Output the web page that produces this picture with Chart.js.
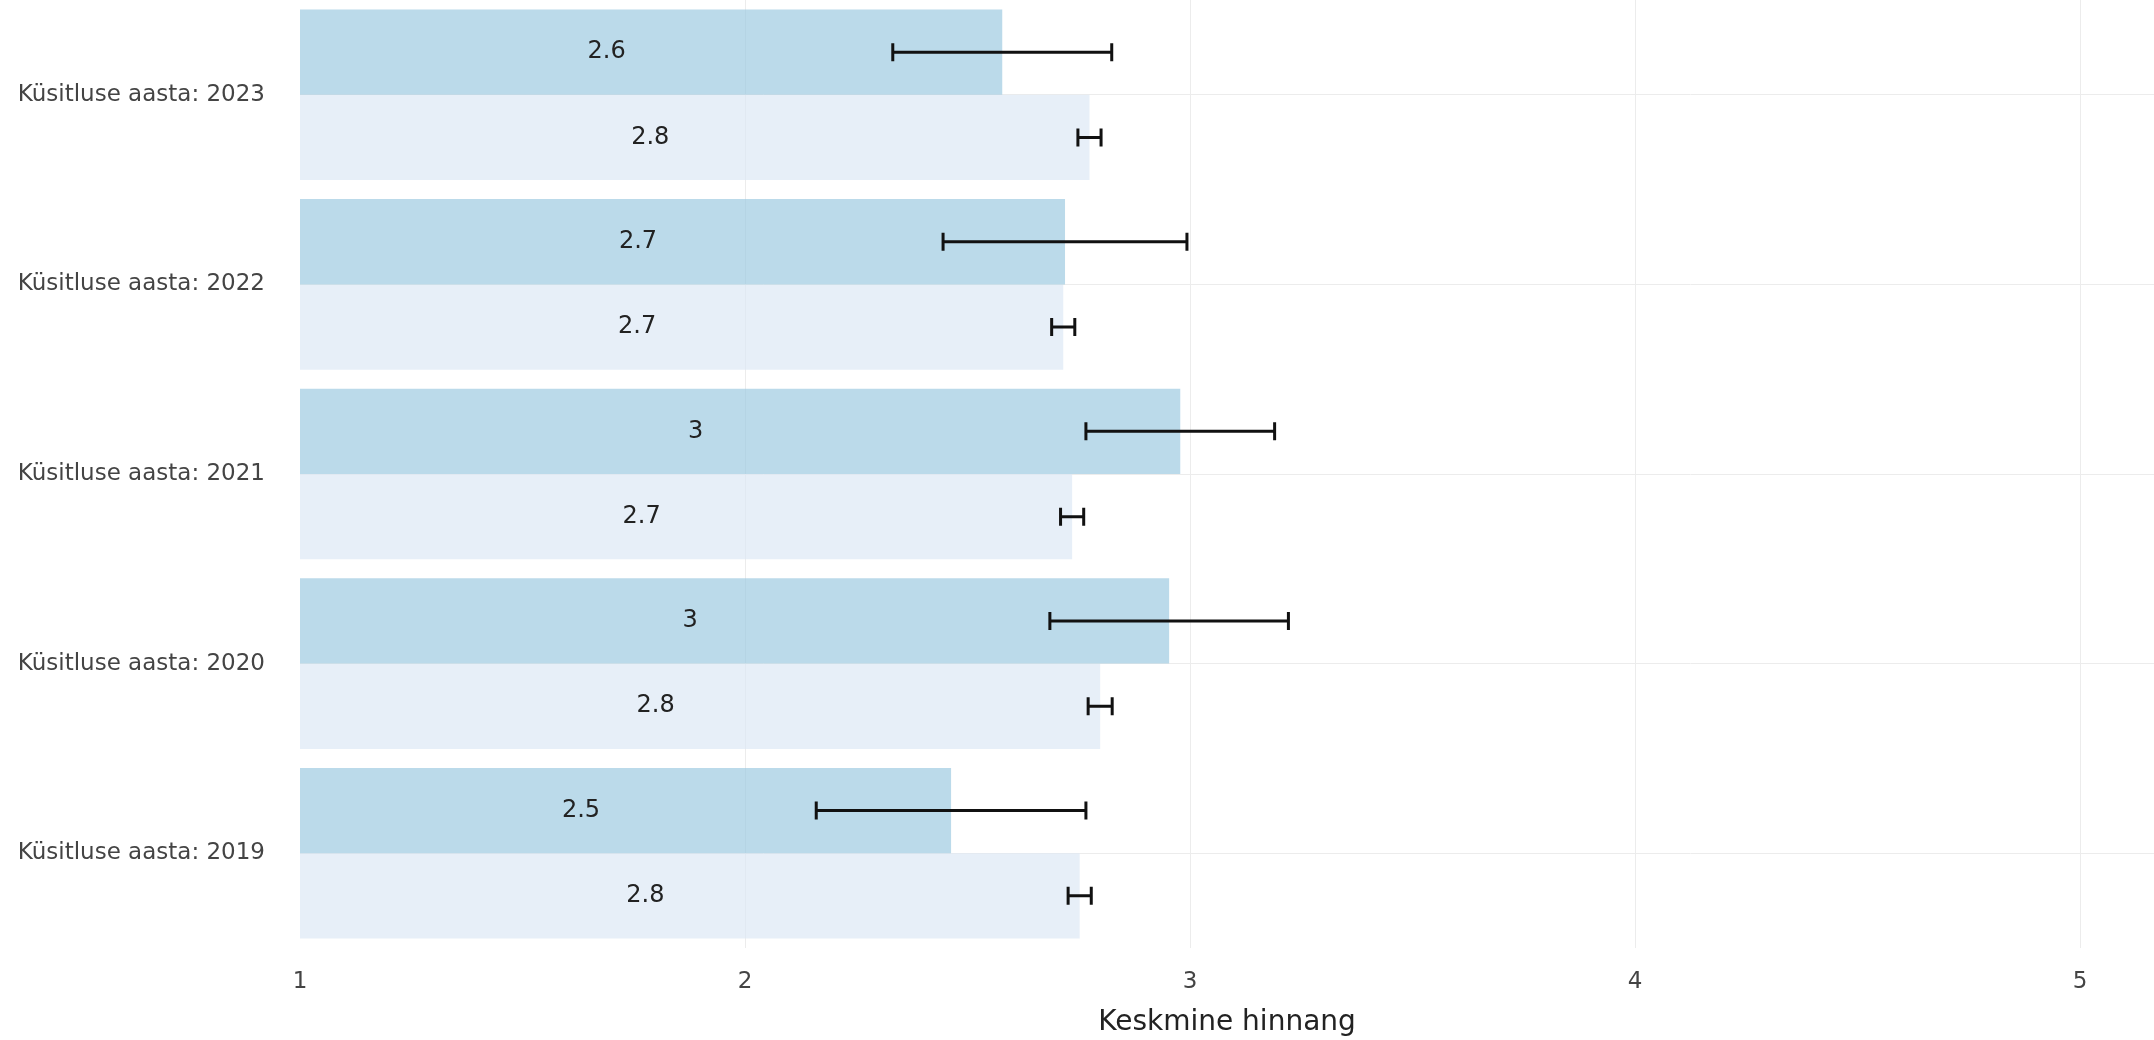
<!DOCTYPE html>
<html>
<head>
<meta charset="utf-8">
<script src="https://cdn.jsdelivr.net/npm/chart.js@4/dist/chart.umd.min.js"></script>
<style>
html,body{margin:0;padding:0;background:#fff;}
#wrap{width:2154px;height:1040px;position:relative;}
</style>
</head>
<body>
<div id="wrap"><canvas id="c"></canvas></div>
<script>
const categories = [
  'Küsitluse aasta: 2023',
  'Küsitluse aasta: 2022',
  'Küsitluse aasta: 2021',
  'Küsitluse aasta: 2020',
  'Küsitluse aasta: 2019'
];
const groupMeans   = [2.578, 2.719, 2.978, 2.953, 2.463];
const groupErrors  = [0.246, 0.274, 0.212, 0.268, 0.303];
const overallMeans = [2.774, 2.715, 2.735, 2.798, 2.752];
const overallErrors= [0.026, 0.026, 0.026, 0.027, 0.026];
const barBase = 0.8;
const xTicks = [1, 2, 3, 4, 5];
const xTitle = 'Keskmine hinnang';

const seriesMeans = [groupMeans, overallMeans];
const seriesErrors = [groupErrors, overallErrors];

Chart.defaults.font.family = '"DejaVu Sans", Verdana, sans-serif';

function fmt(v){ return String(Math.round(v * 10) / 10); }

const overlay = {
  id: 'overlay',
  afterDatasetsDraw(chart) {
    const ctx = chart.ctx;
    const xs = chart.scales.x;
    ctx.save();
    chart.data.datasets.forEach((ds, di) => {
      const meta = chart.getDatasetMeta(di);
      const means = seriesMeans[di], errs = seriesErrors[di];
      meta.data.forEach((bar, i) => {
        const v = means[i];
        const y = bar.y;
        ctx.fillStyle = '#222';
        ctx.font = '24px "DejaVu Sans", Verdana, sans-serif';
        ctx.textAlign = 'center';
        ctx.textBaseline = 'middle';
        ctx.fillText(fmt(v), (bar.x + bar.base) / 2, y);
        const x0 = xs.getPixelForValue(v - errs[i]);
        const x1 = xs.getPixelForValue(v + errs[i]);
        ctx.strokeStyle = '#111';
        ctx.lineWidth = 3;
        ctx.beginPath();
        ctx.moveTo(x0, y); ctx.lineTo(x1, y);
        ctx.moveTo(x0, y - 9); ctx.lineTo(x0, y + 9);
        ctx.moveTo(x1, y - 9); ctx.lineTo(x1, y + 9);
        ctx.stroke();
      });
    });
    ctx.restore();
  }
};

new Chart(document.getElementById('c'), {
  type: 'bar',
  data: {
    labels: categories,
    datasets: [
      {
        label: 'Rühm',
        data: groupMeans.map(v => [barBase, v]),
        backgroundColor: 'rgba(158,202,225,0.7)',
        borderWidth: 0,
        categoryPercentage: 0.9,
        barPercentage: 1.0
      },
      {
        label: 'Kõik',
        data: overallMeans.map(v => [barBase, v]),
        backgroundColor: 'rgba(221,232,245,0.7)',
        borderWidth: 0,
        categoryPercentage: 0.9,
        barPercentage: 1.0
      }
    ]
  },
  options: {
    indexAxis: 'y',
    responsive: true,
    maintainAspectRatio: false,
    animation: false,
    layout: { padding: 0 },
    plugins: { legend: { display: false }, tooltip: { enabled: false } },
    scales: {
      x: {
        type: 'linear',
        min: 1,
        max: 5.166,
        afterBuildTicks: s => { s.ticks = xTicks.map(v => ({ value: v })); },
        afterFit: s => { s.height = 92; s.paddingRight = 0; },
        grid: {
          drawTicks: false,
          color: c => (c.tick && c.tick.value === 1) ? 'rgba(0,0,0,0)' : '#ececec',
          lineWidth: 1
        },
        border: { display: false },
        ticks: { color: '#444', font: { size: 23 }, padding: 20 },
        title: { display: true, text: xTitle, color: '#222', font: { size: 28 }, padding: { top: 0, bottom: 0 } }
      },
      y: {
        type: 'category',
        afterFit: s => { s.width = 300; s.paddingTop = 0; s.paddingBottom = 0; },
        grid: { offset: false, drawTicks: false, color: '#ececec', lineWidth: 1 },
        border: { display: false },
        ticks: { color: '#444', font: { size: 23 }, padding: 35 }
      }
    }
  },
  plugins: [overlay]
});
</script>
</body>
</html>
